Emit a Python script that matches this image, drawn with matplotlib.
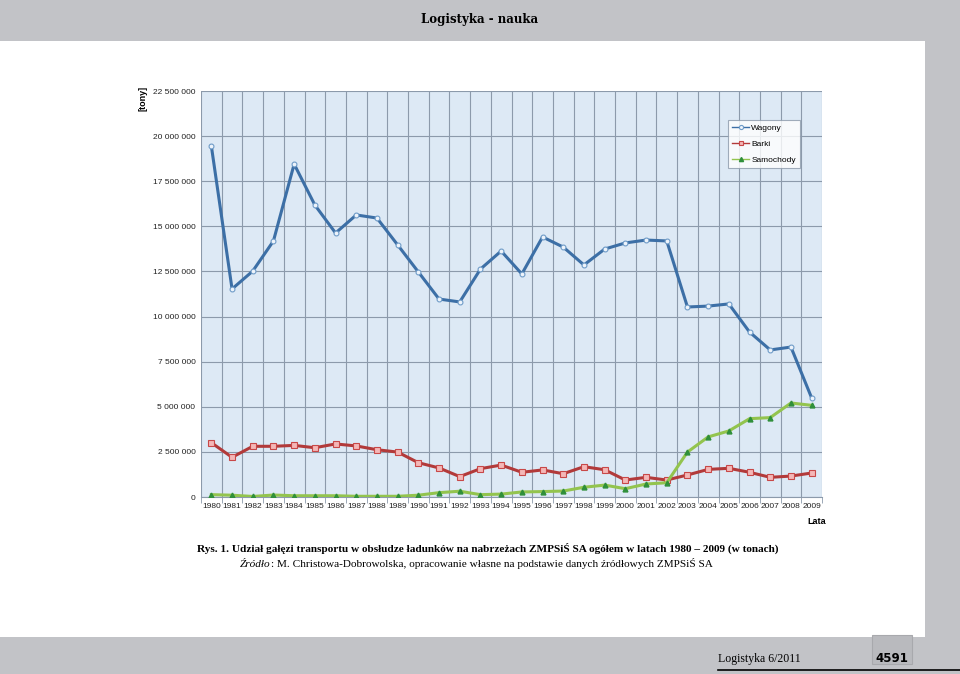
import numpy as np
import matplotlib
matplotlib.use("Agg")
import matplotlib.pyplot as plt
from matplotlib.patches import Rectangle
from matplotlib.lines import Line2D
from matplotlib.ticker import FuncFormatter, MultipleLocator

years = list(range(1980, 2010))

wagony = [19.45, 11.53, 12.52, 14.19, 18.45, 16.18, 14.63, 15.63, 15.46, 13.97,
          12.47, 10.97, 10.81, 12.63, 13.63, 12.36, 14.41, 13.85, 12.86, 13.74,
          14.08, 14.24, 14.19, 10.53, 10.58, 10.70, 9.14, 8.15, 8.31, 5.49]

barki = [3.01, 2.20, 2.81, 2.81, 2.86, 2.73, 2.94, 2.83, 2.62, 2.49,
         1.90, 1.61, 1.13, 1.57, 1.77, 1.37, 1.50, 1.29, 1.68, 1.51,
         0.94, 1.09, 0.94, 1.22, 1.53, 1.59, 1.37, 1.09, 1.16, 1.33]

samochody = [0.13, 0.10, 0.03, 0.11, 0.07, 0.07, 0.07, 0.04, 0.04, 0.04,
             0.10, 0.24, 0.32, 0.13, 0.16, 0.28, 0.30, 0.33, 0.54, 0.66,
             0.46, 0.72, 0.79, 2.49, 3.33, 3.66, 4.34, 4.40, 5.21, 5.08]

series_names = ["Wagony", "Barki", "Samochody"]

# values in millions of tonnes -> tonnes
wagony = np.array(wagony) * 1e6
barki = np.array(barki) * 1e6
samochody = np.array(samochody) * 1e6

W, H = 960, 674
fig = plt.figure(figsize=(9.6, 6.74), dpi=100)
fig.patch.set_facecolor("white")

# PAGE DECORATION
def px_rect(x0, y0, x1, y1, **kw):
    fig.add_artist(Rectangle((x0 / W, 1 - y1 / H), (x1 - x0) / W, (y1 - y0) / H,
                             transform=fig.transFigure, **kw))

px_rect(0, 0, 960, 41, facecolor="#c2c3c7", edgecolor="none")
px_rect(925, 0, 960, 674, facecolor="#c2c3c7", edgecolor="none")
px_rect(0, 637, 960, 674, facecolor="#c2c3c7", edgecolor="none")
px_rect(872, 635, 912, 664, facecolor="#b9babe", edgecolor="#a8a9ad", linewidth=0.8)
fig.add_artist(Line2D([718 / W, 1], [1 - 670 / H, 1 - 670 / H],
                      transform=fig.transFigure, color="black", linewidth=1.2))

fig.text(480 / W, 1 - 20 / H, "Logistyka - nauka", ha="center", va="center",
         family="DejaVu Serif", weight="bold", fontsize=8.5)
fig.text(718 / W, 1 - 659 / H, "Logistyka 6/2011", ha="left", va="center",
         family="Liberation Serif", fontsize=8.5)
fig.text(892 / W, 1 - 659 / H, "4591", ha="center", va="center",
         family="DejaVu Sans", weight="bold", fontsize=8.5)

# CAPTION
fig.text(197 / W, 1 - 552 / H,
         "Rys. 1. Udział gałęzi transportu w obsłudze ładunków na nabrzeżach ZMPSiŚ SA ogółem w latach 1980 – 2009 (w tonach)",
         ha="left", va="baseline", family="Liberation Serif", weight="bold", fontsize=8.1)
t1 = fig.text(240 / W, 1 - 567 / H, "Źródło", ha="left", va="baseline",
              family="Liberation Serif", style="italic", fontsize=8.1)
renderer = fig.canvas.get_renderer()
bb = t1.get_window_extent(renderer=renderer)
fig.text(bb.x1 / W, 1 - 567 / H,
         ": M. Christowa-Dobrowolska, opracowanie własne na podstawie danych źródłowych ZMPSiŚ SA",
         ha="left", va="baseline", family="Liberation Serif", fontsize=8.1)

# CHART
ax = fig.add_axes([201 / W, 1 - 497 / H, (822 - 201) / W, (497 - 91) / H])
ax.set_facecolor("#dde9f5")

x = np.arange(len(years))

ax.plot(x, wagony, color="#3c6fa6", linewidth=2.2, marker="o", markersize=3.5,
        markerfacecolor="#eef4fb", markeredgecolor="#6f9cc8", markeredgewidth=0.8,
        label=series_names[0], zorder=3)
ax.plot(x, barki, color="#b23a3a", linewidth=2.2, marker="s", markersize=4.5,
        markerfacecolor="#f4b7b7", markeredgecolor="#c84848", markeredgewidth=0.8,
        label=series_names[1], zorder=3)
ax.plot(x, samochody, color="#93c44e", linewidth=2.2, marker="^", markersize=3.5,
        markerfacecolor="#2f8f3a", markeredgecolor="#2f8f3a",
        label=series_names[2], zorder=3)

ax.set_xlim(-0.5, len(years) - 0.5)
ax.set_ylim(0, 22500000)
ax.yaxis.set_major_locator(MultipleLocator(2500000))
ax.yaxis.set_major_formatter(FuncFormatter(lambda v, p: f"{int(v):,}".replace(",", " ")))

ax.set_xticks(x)
ax.set_xticklabels([str(y) for y in years])
ax.set_xticks(np.arange(-0.5, len(years), 1), minor=True)

ax.grid(True, axis="y", which="major", color="#8c9aab", linewidth=0.8)
ax.grid(True, axis="x", which="minor", color="#8c9aab", linewidth=0.8)
ax.set_axisbelow(True)

for s in ["top", "right", "left"]:
    ax.spines[s].set_visible(False)
ax.spines["bottom"].set_color("#8c9aab")

ax.tick_params(axis="both", which="major", labelsize=6, colors="#222222",
               length=0, pad=4)
ax.tick_params(axis="x", which="minor", length=4, color="#8c9aab")
for lab in ax.get_xticklabels() + ax.get_yticklabels():
    lab.set_family("Liberation Sans")

fig.text(817 / W, 1 - 522 / H, "Lata", ha="center", va="center",
         family="Liberation Sans", weight="bold", fontsize=6.5)
fig.text(143 / W, 1 - 98 / H, "[tony]", ha="center", va="center", rotation=90,
         family="Liberation Sans", weight="bold", fontsize=6.5)

leg = ax.legend(loc="upper left", bbox_to_anchor=((728 - 201) / (822 - 201), (497 - 120) / (497 - 91)),
                frameon=True, fancybox=False, handlelength=2.0,
                borderpad=0.5, labelspacing=0.95, handletextpad=0.3, borderaxespad=0,
                prop={"family": "Liberation Sans", "size": 6})
leg.get_frame().set_facecolor("white")
leg.get_frame().set_edgecolor("#8c9aab")
leg.get_frame().set_linewidth(0.8)
for line in leg.get_lines():
    line.set_linewidth(1.0)
    line.set_markersize(3)

fig.savefig("out.png", dpi=100)
